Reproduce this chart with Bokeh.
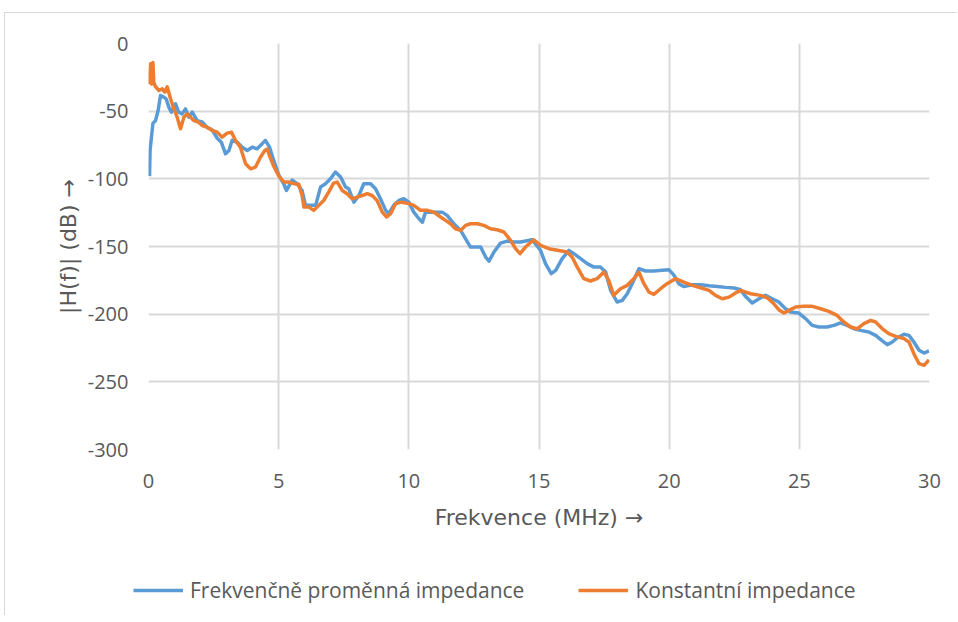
from bokeh.plotting import figure
from bokeh.models import Range1d, FixedTicker, Legend, LegendItem
from bokeh.layouts import column
from bokeh.embed import file_html
from bokeh.resources import INLINE

# ---- data ----
blue_x = [0.04, 0.06, 0.17, 0.27, 0.37, 0.46, 0.59, 0.68, 0.78, 0.88, 1.04, 1.16, 1.29, 1.42, 1.55, 1.68,
          1.87, 2.06, 2.25, 2.45, 2.64, 2.80, 2.96, 3.09, 3.21, 3.41, 3.60, 3.79, 3.98, 4.17, 4.37, 4.49,
          4.65, 4.81, 5.01, 5.20, 5.30, 5.52, 5.71, 5.90, 6.03, 6.22, 6.42, 6.61, 6.80, 6.99, 7.18, 7.38,
          7.57, 7.69, 7.89, 8.08, 8.27, 8.53, 8.72, 8.91, 9.11, 9.23, 9.42, 9.62, 9.81, 10.0, 10.19, 10.39,
          10.52, 10.64, 10.83, 11.09, 11.28, 11.47, 11.73, 11.99, 12.18, 12.37, 12.56, 12.76, 12.95, 13.08,
          13.27, 13.52, 13.78, 14.04, 14.29, 14.74, 15.06, 15.25, 15.47, 15.64, 15.89, 16.15, 16.34, 16.60,
          16.85, 17.11, 17.36, 17.56, 17.75, 18.0, 18.2, 18.39, 18.58, 18.84, 19.09, 19.41, 19.73, 19.99,
          20.19, 20.37, 20.56, 20.89, 21.21, 21.53, 21.85, 22.17, 22.49, 22.74, 22.94, 23.19, 23.45, 23.70,
          23.96, 24.21, 24.47, 24.66, 24.98, 25.24, 25.50, 25.75, 26.07, 26.33, 26.58, 26.84, 27.10, 27.35,
          27.67, 27.93, 28.19, 28.38, 28.57, 28.76, 29.02, 29.21, 29.40, 29.60, 29.79, 29.98]
blue_y = [-98, -79, -59, -57, -49.5, -38.4, -39.6, -41, -47, -50.7, -44.6, -50.7, -52, -48.3, -54.4, -50.7,
          -57, -58, -62, -64, -70, -73, -81.5, -79, -71.6, -73, -76.6, -79, -76.6, -77.8, -74, -71.6,
          -76.6, -86.4, -97.5, -104, -108.6, -101, -103.6, -108.6, -119.6, -119.6, -119.6, -106, -103.6, -100, -95, -98.7,
          -106, -107.3, -117.2, -112.3, -103.6, -103.6, -107.3, -114.7, -123.3, -125.8, -119.6, -116, -114.7, -117.2, -124.6, -129.5,
          -132, -124.6, -124.6, -124.6, -124.6, -127, -133.2, -138.1, -144.3, -150.4, -150.4, -150.4, -157.8, -160.8,
          -154.1, -147.5, -146, -146.7, -146.7, -145, -152.9, -162.7, -170.1, -167.6, -159, -152.9, -155.3, -159,
          -162.7, -165.2, -165.2, -168.9, -182.4, -191, -189.8, -184.9, -177.5, -166.4, -168.1, -168.1, -167.6, -167.1,
          -171.3, -177.5, -179.5, -178.3, -178.3, -179, -179.5, -180.2, -180.7, -182, -187, -191.8, -188.6, -186.1,
          -188.6, -191, -196, -198.4, -199.2, -203.3, -208.3, -209.5, -209.5, -208.3, -206.5, -208.3, -210.8, -212,
          -213.2, -215.7, -219.8, -222.5, -220.6, -217.4, -214.9, -215.7, -220.6, -226.7, -228.7, -227.2]

orange_x = [0.0, 0.04, 0.08, 0.12, 0.17, 0.20, 0.27, 0.40, 0.53, 0.63, 0.72, 0.85, 0.97, 1.10, 1.23, 1.36,
            1.49, 1.61, 1.74, 1.91, 2.06, 2.25, 2.45, 2.64, 2.83, 3.02, 3.19, 3.34, 3.53, 3.73, 3.92, 4.11,
            4.30, 4.47, 4.56, 4.62, 4.81, 5.01, 5.20, 5.39, 5.58, 5.77, 5.90, 5.97, 6.16, 6.35, 6.54, 6.73,
            6.92, 7.11, 7.25, 7.44, 7.63, 7.82, 8.02, 8.21, 8.40, 8.59, 8.78, 8.98, 9.15, 9.30, 9.49, 9.68,
            9.94, 10.19, 10.45, 10.71, 10.96, 11.22, 11.41, 11.60, 11.79, 11.99, 12.18, 12.37, 12.63, 12.88,
            13.14, 13.39, 13.65, 13.91, 14.10, 14.27, 14.48, 14.80, 15.06, 15.38, 15.76, 16.08, 16.27, 16.47,
            16.72, 16.98, 17.23, 17.49, 17.68, 17.87, 18.13, 18.39, 18.64, 18.84, 19.03, 19.22, 19.41, 19.67,
            19.92, 20.24, 20.56, 20.89, 21.21, 21.53, 21.78, 22.04, 22.30, 22.55, 22.74, 23.13, 23.51, 23.77,
            24.02, 24.21, 24.41, 24.60, 24.86, 25.17, 25.50, 25.82, 26.13, 26.45, 26.71, 26.97, 27.22, 27.48,
            27.74, 27.93, 28.19, 28.44, 28.70, 29.02, 29.21, 29.40, 29.60, 29.79, 29.98]
orange_y = [-30, -25, -15, -30, -14, -28.5, -32, -34.7, -33.5, -36, -32, -41, -48, -54.4, -63, -54.4,
            -52, -54.4, -57, -58, -60.6, -61.8, -64.3, -65.5, -69.2, -66.2, -65.5, -71.6, -76.6, -88.9, -92.6, -91.3,
            -84, -79, -78, -81.5, -90.7, -98, -102.4, -102.4, -103.6, -104, -112.3, -120.9, -120.9, -123.3, -119.6, -116,
            -109.8, -103.2, -102.4, -108.6, -111, -114.7, -113.5, -112.3, -111, -112.3, -116, -124.6, -128.2, -125.8, -118.4, -117.2,
            -118, -119.6, -123.3, -123.3, -124.6, -128.2, -130.7, -133.2, -136.9, -138.1, -134.4, -133.2, -133.2, -134.4,
            -136.9, -137.6, -139.3, -145.5, -151.6, -155.3, -150.4, -145, -149.2, -151.6, -152.9, -154.1, -157.8, -165.2,
            -173.8, -175.5, -173.8, -168.9, -175, -186.1, -181.2, -178.7, -173.8, -168.9, -177.5, -183.6, -185.4, -181.2,
            -177.5, -173.8, -176.3, -178.7, -180.5, -182.4, -186.1, -188.6, -187.4, -184.4, -182.4, -184.9, -186.1, -187.9,
            -192.3, -196.7, -199.2, -197.2, -194.7, -194.2, -194.2, -196, -197.9, -200.9, -205.8, -209.5, -210.8, -207,
            -204.6, -205.8, -210.8, -214.4, -216.4, -218.1, -220.6, -229.2, -236.6, -237.8, -233.8]

x_ticks = [0, 5, 10, 15, 20, 25, 30]
x_tick_labels = ["0", "5", "10", "15", "20", "25", "30"]
y_ticks = [0, -50, -100, -150, -200, -250, -300]
y_tick_labels = ["0", "-50", "-100", "-150", "-200", "-250", "-300"]

series_names = ["Frekvenčně proměnná impedance", "Konstantní impedance"]
series_colors = ["#5B9BD5", "#ED7D31"]

FONT = "Open Sans"
LABEL_FONT = "DejaVu Sans"
TEXT = "#595959"
GRID = "#D9D9D9"
LW = 3.5

# ---- main chart ----
p = figure(width=952, height=547, output_backend="svg", toolbar_location=None,
           x_range=Range1d(0, 30), y_range=Range1d(-300, 0),
           min_border_left=143, min_border_right=28, min_border_top=30, min_border_bottom=111)
p.frame_align = False
p.outline_line_color = None
p.background_fill_color = "white"
p.border_fill_color = "white"

p.xaxis.ticker = FixedTicker(ticks=x_ticks)
p.yaxis.ticker = FixedTicker(ticks=y_ticks)
p.xaxis.major_label_overrides = {t: l for t, l in zip(x_ticks, x_tick_labels)}
p.yaxis.major_label_overrides = {t: l for t, l in zip(y_ticks, y_tick_labels)}

for ax in (p.xaxis[0], p.yaxis[0]):
    ax.axis_line_color = None
    ax.major_tick_line_color = None
    ax.minor_tick_line_color = None
    ax.major_tick_out = 0
    ax.major_tick_in = 0
    ax.minor_tick_out = 0
    ax.major_label_text_font = FONT
    ax.major_label_text_font_size = "20px"
    ax.major_label_text_color = TEXT
    ax.axis_label_text_font = LABEL_FONT
    ax.axis_label_text_font_size = "22px"
    ax.axis_label_text_color = TEXT
    ax.axis_label_text_font_style = "normal"

p.xaxis.major_label_standoff = 24
p.yaxis.major_label_standoff = 20
p.xaxis.axis_label = "Frekvence (MHz) →"
p.yaxis.axis_label = "|H(f)| (dB) →"
p.xaxis.axis_label_standoff = 14
p.yaxis.axis_label_standoff = 4

p.xgrid.grid_line_color = GRID
p.ygrid.grid_line_color = GRID
p.xgrid.grid_line_width = 2
p.ygrid.grid_line_width = 2

p.line(blue_x, blue_y, line_color=series_colors[0], line_width=LW, line_join="round")
p.line(orange_x, orange_y, line_color=series_colors[1], line_width=LW, line_join="round")

# ---- legend strip ----
q = figure(width=952, height=55, output_backend="svg", toolbar_location=None,
           x_range=Range1d(0, 1), y_range=Range1d(0, 1),
           x_axis_location=None, y_axis_location=None,
           min_border_left=0, min_border_right=0, min_border_top=0, min_border_bottom=0)
q.frame_align = False
q.outline_line_color = None
q.xgrid.visible = False
q.ygrid.visible = False
q.border_fill_color = "white"
q.background_fill_color = "white"
# legend-only renderers, placed outside the visible range
l1 = q.line([-5, -4], [-5, -4], line_color=series_colors[0], line_width=LW)
l2 = q.line([-5, -4], [-5, -4], line_color=series_colors[1], line_width=LW)

legend = Legend(items=[LegendItem(label=series_names[0], renderers=[l1]),
                       LegendItem(label=series_names[1], renderers=[l2])],
                orientation="horizontal", location=(128, 11),
                padding=0, margin=0, spacing=54, glyph_width=50, glyph_height=20,
                label_standoff=7, label_height=20,
                label_text_font=FONT, label_text_font_size="21px", label_text_color=TEXT,
                border_line_color=None, background_fill_alpha=0)
q.add_layout(legend, "center")

lay = column(p, q, spacing=0)
lay.styles = {"margin-left": "4px", "margin-top": "12px",
              "border-top": "1px solid #D9D9D9", "border-left": "1px solid #D9D9D9"}

open("out.html", "w").write(file_html(lay, INLINE))
